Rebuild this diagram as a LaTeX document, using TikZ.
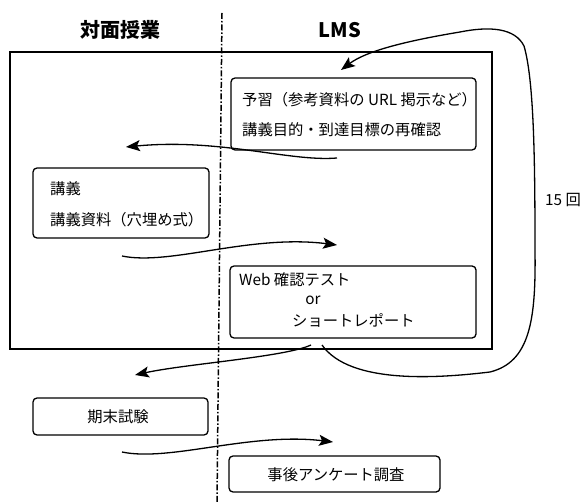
\documentclass[tikz,border=0pt]{standalone}
\usepackage{fontspec}
\setmainfont{Noto Sans CJK JP}
\usetikzlibrary{arrows.meta}
\begin{document}
\begin{tikzpicture}[x=1pt,y=-1pt,
  box/.style={draw, line width=1.3pt, rounded corners=4pt, inner sep=0pt},
  frame/.style={draw, line width=1.3pt, inner sep=0pt},
  txt/.style={inner sep=0pt, font=\fontsize{15.3}{18}\selectfont},
  head/.style={inner sep=0pt, font=\fontsize{20}{24}\selectfont\bfseries},
  arr/.style={line width=1.3pt, -{Stealth[length=14pt,width=11pt,inset=3pt]}},
  divider/.style={line width=1.5pt, dash pattern=on 6pt off 2pt on 1.5pt off 2pt}]
\useasboundingbox[fill=white] (0,0) rectangle (583,502);

% headers
\node[head] (hF) at (120,30) {対面授業};
\node[head] (hL) at (340,30) {LMS};

% divider
\coordinate (dTop) at (222,13);
\coordinate (dBot) at (217,502);
\draw[divider] (dTop) -- (dBot);

% outer frame
\node[frame, minimum width=482pt, minimum height=297pt] (outer) at (251,200.5) {};

% boxes
\node[box, minimum width=245pt, minimum height=72pt] (b1) at (353.5,114) {};
\node[box, minimum width=176pt, minimum height=70pt] (b2) at (121,203) {};
\node[box, minimum width=246pt, minimum height=72pt] (b3) at (353,302) {};
\node[box, minimum width=175pt, minimum height=37pt] (b4) at (120.5,416.5) {};
\node[box, minimum width=211pt, minimum height=36pt] (b5) at (334.5,474) {};

% texts
\node[txt, anchor=west] (t1a) at (242,100) {予習（参考資料の URL 掲示など）};
\node[txt, anchor=west] (t1b) at (242,130) {講義目的・到達目標の再確認};
\node[txt, anchor=west] (t2a) at (50,189) {講義};
\node[txt, anchor=west] (t2b) at (50,220) {講義資料（穴埋め式）};
\node[txt, anchor=west] (t3a) at (239,280) {Web 確認テスト};
\node[txt] (t3b) at (313,300) {or};
\node[txt, anchor=west] (t3c) at (292,320) {ショートレポート};
\node[txt] (t4) at (118,417) {期末試験};
\node[txt] (t5) at (336,475) {事後アンケート調査};
\node[txt, anchor=west] (t15) at (545,200) {15 回};

% connector ends
\coordinate (a1s) at (337,158);
\coordinate (a1e) at (126,147);
\coordinate (a2s) at (122,256);
\coordinate (a2e) at (337,245);
\coordinate (a3s) at (311,345);
\coordinate (a3e) at (135,375);
\coordinate (a4s) at (122,452);
\coordinate (a4e) at (333,442);
\coordinate (lpS) at (322,345);
\coordinate (lpE) at (341,70);

% connectors
\draw[arr] (a1s) .. controls (290,162) and (220,138) .. (a1e);
\draw[arr] (a2s) .. controls (170,266) and (250,234) .. (a2e);
\draw[arr] (a3s) .. controls (285,357) and (185,364) .. (a3e);
\draw[arr] (a4s) .. controls (170,462) and (250,432) .. (a4e);
\draw[arr] (lpS) .. controls (350,385) and (440,378) .. (490,372)
  .. controls (530,362) and (536,320) .. (535,250)
  .. controls (535,160) and (534,80) .. (524,46)
  .. controls (515,28) and (490,26) .. (460,32)
  .. controls (400,42) and (365,52) .. (lpE);
\end{tikzpicture}
\end{document}
